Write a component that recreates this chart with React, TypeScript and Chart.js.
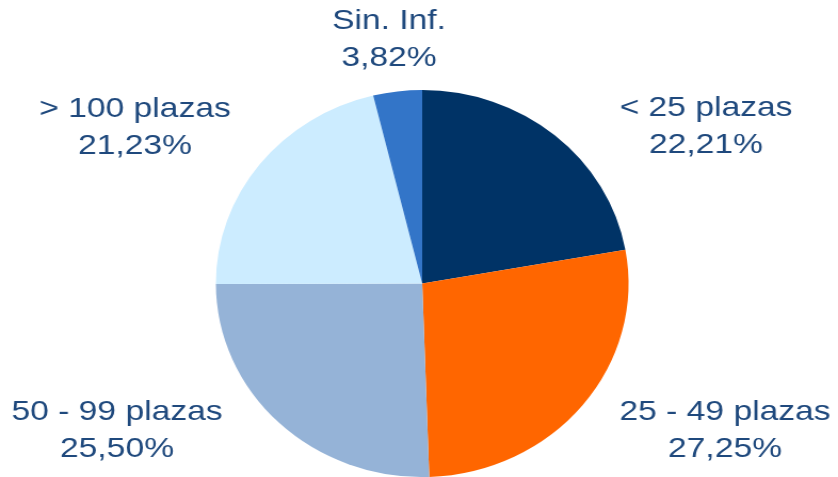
import React, { useEffect, useRef } from "react";
import { Chart, registerables } from "chart.js";

Chart.register(...registerables);

const categories = ["< 25 plazas", "25 - 49 plazas", "50 - 99 plazas", "> 100 plazas", "Sin. Inf."];
const values = [22.21, 27.25, 25.5, 21.23, 3.82];
const colors = ["#003366", "#FF6600", "#95B3D7", "#CCECFF", "#3375C8"];

// label anchor (image px): center x, baseline of first line
const labelX = [706, 725, 117, 135, 389];
const labelY = [116, 420, 420, 117, 29];

const W = 838;
const H = 477;
const CW = 786;
const SX = W / CW;
const TEXT_SX = 1.2 / SX;
const PITCH = 37;
const TEXT_COLOR = "#1F497D";

const fmt = (v: number) => v.toFixed(2).replace(".", ",") + "%";

const labelPlugin = {
  id: "sliceLabels",
  afterDraw(chart: any) {
    const ctx = chart.ctx as CanvasRenderingContext2D;
    ctx.save();
    ctx.font = '28px "Liberation Sans", Arial, sans-serif';
    ctx.fillStyle = TEXT_COLOR;
    ctx.textAlign = "center";
    ctx.textBaseline = "alphabetic";
    categories.forEach((cat, i) => {
      const lines = [cat, fmt(values[i])];
      lines.forEach((line, j) => {
        ctx.save();
        ctx.translate(labelX[i] / SX, labelY[i] + j * PITCH);
        ctx.scale(TEXT_SX, 1);
        ctx.fillText(line, 0, 0);
        ctx.restore();
      });
    });
    ctx.restore();
  },
};

export default function App() {
  const ref = useRef<HTMLCanvasElement | null>(null);
  useEffect(() => {
    if (!ref.current) return;
    const chart = new Chart(ref.current, {
      type: "pie",
      data: {
        labels: categories,
        datasets: [
          {
            data: values,
            backgroundColor: colors,
            borderWidth: 0,
          },
        ],
      },
      options: {
        responsive: false,
        maintainAspectRatio: false,
        animation: false,
        layout: { padding: { top: 90, bottom: 0, left: 6, right: 0 } },
        plugins: {
          legend: { display: false },
          tooltip: { enabled: false },
        },
      },
      plugins: [labelPlugin],
    });
    return () => chart.destroy();
  }, []);
  return (
    <div
      style={{
        position: "fixed",
        left: 0,
        top: 0,
        width: W,
        height: H,
        overflow: "hidden",
        background: "#ffffff",
      }}
    >
      <canvas
        ref={ref}
        width={CW}
        height={H}
        style={{
          width: CW,
          height: H,
          display: "block",
          transform: `scaleX(${SX})`,
          transformOrigin: "0 0",
        }}
      />
    </div>
  );
}
